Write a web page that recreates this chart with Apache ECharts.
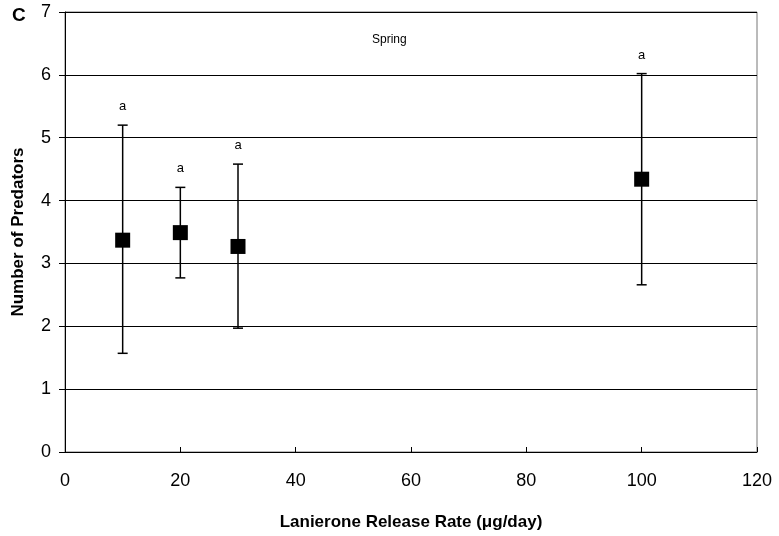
<!DOCTYPE html>
<html><head><meta charset="utf-8">
<script src="https://cdn.jsdelivr.net/npm/echarts@6/dist/echarts.min.js"></script>
<style>html,body{margin:0;padding:0;background:#fff}#c{width:779px;height:536px}</style>
</head><body><div id="c"></div>
<script>
const releaseRates = [10, 20, 30, 100];
const meanPredators = [3.37, 3.49, 3.27, 4.34];
const errLow = [1.57, 2.77, 1.97, 2.66];
const errHigh = [5.2, 4.21, 4.58, 6.02];
const sigLetters = ['a', 'a', 'a', 'a'];
const xTicks = [0, 20, 40, 60, 80, 100, 120];
const yTicks = [0, 1, 2, 3, 4, 5, 6, 7];

const chart = echarts.init(document.getElementById('c'), null, {renderer: 'canvas'});
const font = 'Liberation Sans, Arial, sans-serif';
chart.setOption({
  animation: false,
  backgroundColor: '#fff',
  graphic: [
    {type: 'text', left: 12, top: 6, style: {text: 'C', font: 'bold 19px ' + font, fill: '#000'}},
    {type: 'text', left: 372, top: 34, style: {text: 'Spring', font: '12px ' + font, fill: '#000'}}
  ],
  grid: {left: 65, right: 22, top: 12, bottom: 84, show: true, borderColor: '#777', borderWidth: 1, containLabel: false, outerBoundsMode: 'none'},
  xAxis: {
    type: 'value', min: 0, max: 120, interval: 20,
    name: 'Lanierone Release Rate (\u03bcg/day)', nameLocation: 'middle', nameGap: 62,
    nameTextStyle: {fontFamily: font, fontSize: 17, fontWeight: 'bold', color: '#000'},
    axisLine: {show: true, lineStyle: {color: '#000', width: 1}},
    axisTick: {show: true, inside: true, length: 5, lineStyle: {color: '#000'}},
    axisLabel: {fontFamily: font, fontSize: 18, color: '#000', margin: 20},
    splitLine: {show: false}
  },
  yAxis: {
    type: 'value', min: 0, max: 7, interval: 1,
    name: 'Number of Predators', nameLocation: 'middle', nameGap: 38,
    nameTextStyle: {fontFamily: font, fontSize: 17, fontWeight: 'bold', color: '#000'},
    axisLine: {show: true, lineStyle: {color: '#000', width: 1}},
    axisTick: {show: true, inside: false, length: 6, lineStyle: {color: '#000'}},
    axisLabel: {fontFamily: font, fontSize: 18, color: '#000', margin: 14},
    splitLine: {show: true, lineStyle: {color: '#000', width: 1}}
  },
  series: [
    {
      type: 'custom',
      data: releaseRates.map((x, i) => [x, errLow[i], errHigh[i], i]),
      renderItem: function (params, api) {
        const x = api.value(0);
        const lo = api.coord([x, api.value(1)]);
        const hi = api.coord([x, api.value(2)]);
        const i = api.value(3);
        const cap = 5;
        const style = {stroke: '#000', lineWidth: 1.5};
        return {
          type: 'group',
          children: [
            {type: 'line', shape: {x1: lo[0], y1: lo[1], x2: hi[0], y2: hi[1]}, style: style},
            {type: 'line', shape: {x1: lo[0] - cap, y1: lo[1], x2: lo[0] + cap, y2: lo[1]}, style: style},
            {type: 'line', shape: {x1: hi[0] - cap, y1: hi[1], x2: hi[0] + cap, y2: hi[1]}, style: style},
            {type: 'text', style: {text: sigLetters[i], x: hi[0], y: hi[1] - 12, textAlign: 'center', textVerticalAlign: 'bottom', font: '13px ' + font, fill: '#000'}}
          ]
        };
      },
      z: 2
    },
    {
      type: 'scatter',
      data: releaseRates.map((x, i) => [x, meanPredators[i]]),
      symbol: 'rect', symbolSize: 15,
      itemStyle: {color: '#000', opacity: 1},
      z: 3
    }
  ]
});
</script></body></html>
